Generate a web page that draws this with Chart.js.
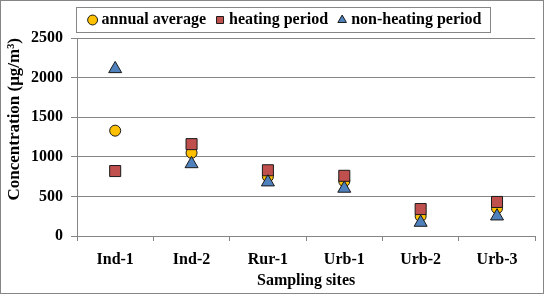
<!DOCTYPE html>
<html>
<head>
<meta charset="utf-8">
<script src="https://cdn.jsdelivr.net/npm/chart.js@4/dist/chart.umd.min.js"></script>
<style>
  html, body { margin: 0; padding: 0; background: #fff; }
  canvas { display: block; }
</style>
</head>
<body>
<canvas id="chart" width="544" height="294"></canvas>
<script>
'use strict';

// values
var sites = ['Ind-1', 'Ind-2', 'Rur-1', 'Urb-1', 'Urb-2', 'Urb-3'];
var annualAverage = [1330, 1050, 750, 690, 250, 350];
var heatingPeriod = [820, 1160, 830, 760, 340, 430];
var nonHeatingPeriod = [2110, 910, 680, 600, 170, 250];
var yTicks = [0, 500, 1000, 1500, 2000, 2500];

var FONT = "'Liberation Serif', 'Times New Roman', serif";
var GRID = '#868686';

// outer frame and the box round the legend
var framePlugin = {
    id: 'frame',
    afterLayout: function (chart) {
        // legend sits a bit right of the canvas centre
        chart.legend.left += 16;
        chart.legend.right += 16;
    },
    beforeDraw: function (chart) {
        var ctx = chart.ctx;
        ctx.save();
        ctx.fillStyle = '#fff';
        ctx.fillRect(0, 0, chart.width, chart.height);
        ctx.restore();
    },
    afterDraw: function (chart) {
        var ctx = chart.ctx;
        var boxes = chart.legend.legendHitBoxes;
        ctx.save();
        ctx.strokeStyle = GRID;
        ctx.lineWidth = 1;
        ctx.strokeRect(0.5, 0.5, chart.width - 1, chart.height - 1);
        if (boxes && boxes.length) {
            var first = boxes[0], last = boxes[boxes.length - 1];
            var left = Math.round(first.left) - 15.5;
            var right = Math.round(last.left + last.width) + 9.5;
            var top = Math.round(first.top + first.height / 2) - 12.5;
            ctx.strokeRect(left, top, right - left, 25);
        }
        ctx.restore();
    }
};

var config = {
    type: 'line',
    data: {
        labels: sites,
        datasets: [{
            label: 'annual average',
            data: annualAverage,
            showLine: false,
            pointStyle: 'circle',
            pointRadius: 5.5,
            pointHoverRadius: 5.5,
            pointBackgroundColor: '#FFC000',
            backgroundColor: '#FFC000',
            pointBorderColor: '#1a1a1a',
            borderColor: '#1a1a1a',
            pointBorderWidth: 1,
            borderWidth: 1,
            order: 2
        }, {
            label: 'heating period',
            data: heatingPeriod,
            showLine: false,
            pointStyle: 'rect',
            pointRadius: 7.8,
            pointHoverRadius: 7.8,
            pointBackgroundColor: '#C0504D',
            backgroundColor: '#C0504D',
            pointBorderColor: '#1a1a1a',
            borderColor: '#1a1a1a',
            pointBorderWidth: 1,
            borderWidth: 1,
            order: 1
        }, {
            label: 'non-heating period',
            data: nonHeatingPeriod,
            showLine: false,
            pointStyle: 'triangle',
            pointRadius: 7.5,
            pointHoverRadius: 7.5,
            pointBackgroundColor: '#4F81BD',
            backgroundColor: '#4F81BD',
            pointBorderColor: '#1a1a1a',
            borderColor: '#1a1a1a',
            pointBorderWidth: 1,
            borderWidth: 1,
            order: 0
        }]
    },
    options: {
        responsive: false,
        animation: false,
        layout: { padding: { top: -1, right: 3, bottom: 0, left: 0 } },
        plugins: {
            tooltip: { enabled: false },
            legend: {
                position: 'top',
                labels: {
                    usePointStyle: true,
                    boxWidth: 2,
                    boxHeight: 7,
                    padding: 13,
                    color: '#000',
                    font: { family: FONT, size: 16, weight: 'bold' },
                    sort: function (a, b) { return a.datasetIndex - b.datasetIndex; }
                }
            }
        },
        scales: {
            x: {
                type: 'category',
                offset: true,
                grid: {
                    offset: true,
                    drawOnChartArea: false,
                    drawTicks: true,
                    tickLength: 5,
                    color: GRID
                },
                border: { display: true, color: GRID },
                ticks: {
                    color: '#000',
                    padding: 9,
                    maxRotation: 0,
                    font: { family: FONT, size: 16, weight: 'bold' }
                },
                title: {
                    display: true,
                    text: 'Sampling sites',
                    color: '#000',
                    padding: { top: 0, bottom: 4 },
                    font: { family: FONT, size: 16, weight: 'bold' }
                },
                afterFit: function (scale) { scale.height = 58; }
            },
            y: {
                min: 0,
                max: 2500,
                afterBuildTicks: function (scale) {
                    scale.ticks = yTicks.map(function (v) { return { value: v }; });
                },
                grid: {
                    color: GRID,
                    tickLength: 6,
                    drawTicks: true
                },
                border: { display: true, color: GRID },
                ticks: {
                    color: '#000',
                    padding: 8,
                    font: { family: FONT, size: 16, weight: 'bold' },
                    callback: function (value) { return String(value); }
                },
                title: {
                    display: true,
                    text: 'Concentration (μg/m³)',
                    align: 'end',
                    color: '#000',
                    padding: { top: 4, bottom: 0 },
                    font: { family: FONT, size: 17, weight: 'bold' }
                },
                afterFit: function (scale) { scale.width = 77; }
            }
        }
    },
    plugins: [framePlugin]
};

var chart = new Chart(document.getElementById('chart'), config);
</script>
</body>
</html>
